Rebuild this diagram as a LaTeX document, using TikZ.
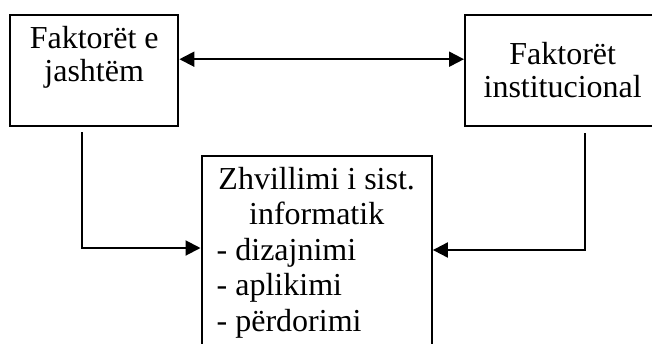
\documentclass[tikz,border=0pt]{standalone}
\usepackage{fontspec}
\setmainfont{Liberation Serif}
\usepackage{tikz}
\usetikzlibrary{arrows.meta,positioning}
\tikzset{>={Triangle[length=7.5pt,width=7.5pt]}}
\tikzset{faktor/.style={draw,line width=1.2pt,rectangle,inner sep=0pt,align=center,font=\fontsize{16}{16.5}\selectfont}}
\newcommand{\itm}[1]{\makebox[100pt][l]{- #1}}

\begin{document}
\begin{tikzpicture}[x=0.5pt,y=-0.5pt,line width=1pt]
  \useasboundingbox (0,0) rectangle (652,343);
  \node[faktor,anchor=north west,minimum width=84pt,minimum height=55.5pt,text height=33pt,text depth=22.5pt] (jashtem) at (9,14) {Faktorët e\\jashtëm};
  \node[faktor,anchor=north west,minimum width=97.5pt,minimum height=55.5pt,text height=41.3pt,text depth=14.2pt] (institucional) at (464,14) {Faktorët\\institucional};
  \node[faktor,anchor=north west,minimum width=115pt,minimum height=97.5pt,text height=87.5pt,text depth=10pt,font=\fontsize{16}{17.75}\selectfont] (zhvillimi) at (200.5,155) {Zhvillimi i sist.\\informatik\\\itm{dizajnimi}\\\itm{aplikimi}\\\itm{përdorimi}};
  \draw[<->] ([yshift=5.75pt]jashtem.east) -- ([yshift=5.75pt]institucional.west);
  \draw[->] ([xshift=-6pt,yshift=-2.5pt]jashtem.south) |- ([yshift=-46.5pt]zhvillimi.north west);
  \draw[->] ([xshift=60.5pt,yshift=-3pt]institucional.south west) |- ([yshift=-47.5pt]zhvillimi.north east);
\end{tikzpicture}
\end{document}
